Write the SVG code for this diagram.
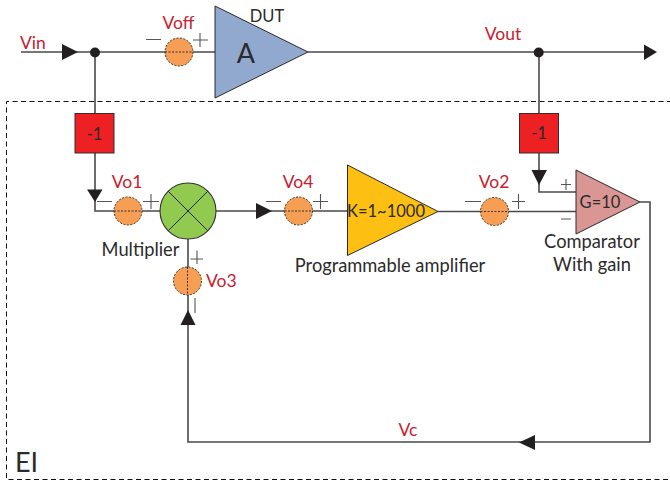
<svg xmlns="http://www.w3.org/2000/svg" width="670" height="483" viewBox="0 0 670 483">
<style>
text{font-family:Lato,Carlito,"Open Sans",sans-serif;font-size:16.5px;fill:#2b2b2b}
.r{fill:#c8202e;font-size:17.5px}
.l{font-size:18.3px}
.m{text-anchor:middle}
.w{fill:none;stroke:#4a4a4a;stroke-width:1.6}
.tri{stroke:#2a2a2a;stroke-width:1}
.box{fill:#ed2024;stroke:#3a2a2a;stroke-width:1}
.o{fill:#f59e54;stroke:#333;stroke-width:1;stroke-dasharray:2 1.5}
.od{fill:none;stroke:#333;stroke-width:1;stroke-dasharray:2 1.5}
.s{fill:none;stroke:#555;stroke-width:1.1}
.a{fill:#231f20}
</style>
<rect width="670" height="483" fill="#fff"/>
<path d="M672 101.500H6.500V479.500H672" fill="none" stroke="#111" stroke-width="1" stroke-dasharray="5 3.5"/>
<g id="connectors">
<path class="w" d="M21 52H215M308 52H648M95 52V113M539 52V113M95 153V211H161M216 211H285M188 239V267M188 295V442H650V202H640M539 153V192H576M312 211H347.5M438 211.5H576"/>
<path class="a" d="M62 44L78 52L62 60Z"/>
<path class="a" d="M644 44.500L657 52L644 60Z"/>
<circle class="a" cx="95" cy="52.500" r="5"/>
<circle class="a" cx="538.700" cy="52.500" r="5"/>
<path class="a" d="M87 189.500H102.500L95 202Z"/>
<path class="a" d="M531.500 170H547L539 185Z"/>
<path class="a" d="M256 203L272 211L256 219Z"/>
<path class="a" d="M180.500 325L188 310L195.500 325Z"/>
<path class="a" d="M519 442.500L535 435V450Z"/>
<path class="s" d="M146 39.500H161M193 40H208M200 33V47M97 201.500H112M143 201.500H159M151 194V209M266 201.500H281M313 201.500H328M320.500 194V209M465 201.500H481M512 201.500H525M518.500 194V209M561 184.500H571M566 179V190M561 219H571M197 250.500V264M190.500 259H203M195 298V313"/>
</g>
<g id="voff"><circle class="o" cx="179" cy="52" r="14"/><path class="od" d="M165 52H193"/><text class="r m" x="178.500" y="29">Voff</text></g>
<g id="dut"><path class="tri" fill="#92a9cf" d="M215 6V98L308 52Z"/><text class="m" x="246" y="63" style="font-size:27px">A</text><text class="m" x="267" y="22">DUT</text></g>
<g id="vin"><text class="r" x="20" y="49">Vin</text></g>
<g id="vout"><text class="r m" x="503" y="40">Vout</text></g>
<g id="neg1"><rect class="box" x="75" y="113.500" width="39" height="39.500"/><text class="m" x="94.500" y="140">-1</text></g>
<g id="neg2"><rect class="box" x="519.500" y="113.500" width="39" height="39.500"/><text class="m" x="539" y="139">-1</text></g>
<g id="vo1"><circle class="o" cx="128" cy="211" r="14"/><path class="od" d="M114 211H142"/><text class="r m" x="127" y="188">Vo1</text></g>
<g id="multiplier"><circle fill="#92c94f" stroke="#333" stroke-width="1.100" cx="188" cy="211" r="28"/><path d="M168.200 191.200L207.800 230.800M207.800 191.200L168.200 230.800" stroke="#222" stroke-width="1"/><text class="m l" x="140.500" y="256">Multiplier</text></g>
<g id="vo4"><circle class="o" cx="298.500" cy="211" r="14"/><path class="od" d="M284.500 211H312.500"/><text class="r m" x="298" y="188">Vo4</text></g>
<g id="vo3"><circle class="o" cx="187.500" cy="281" r="14"/><path class="od" d="M187.500 267V295"/><text class="r" x="206" y="287">Vo3</text></g>
<g id="amp"><path class="tri" fill="#fdbf12" d="M347.500 165V255.500L438 211.500Z"/><text class="m" x="386" y="217">K=1~1000</text><text class="m l" x="390" y="272">Programmable amplifier</text></g>
<g id="vo2"><circle class="o" cx="494.500" cy="211.500" r="14"/><path class="od" d="M480.500 211.500H508.500"/><text class="r m" x="494" y="188">Vo2</text></g>
<g id="comparator"><path class="tri" fill="#da9694" d="M576 170V234L640 202Z"/><text class="m" x="600" y="208">G=10</text><text class="m l" x="592" y="248">Comparator</text><text class="m l" x="592" y="271">With gain</text></g>
<g id="vc"><text class="r m" x="408" y="436">Vc</text></g>
<g id="ei"><text x="15" y="472" style="font-size:27px">EI</text></g>
</svg>
